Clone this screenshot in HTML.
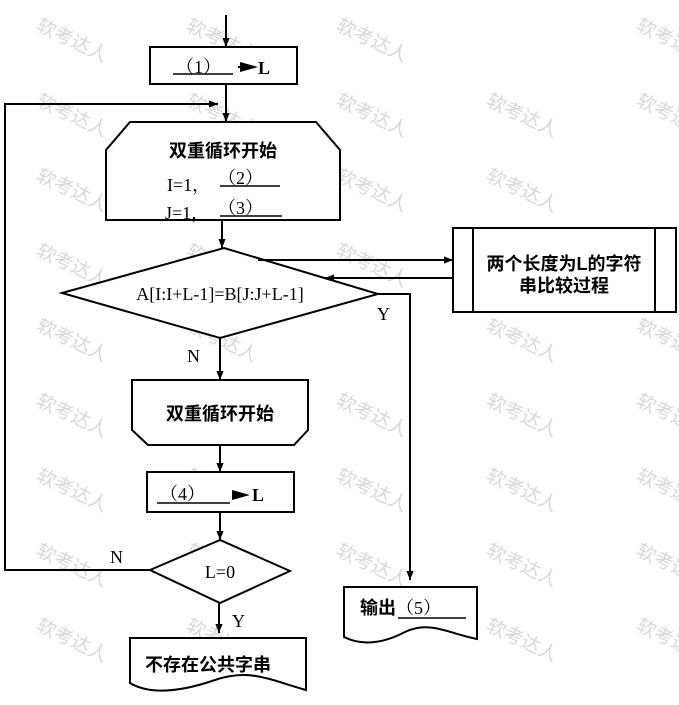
<!DOCTYPE html>
<html><head><meta charset="utf-8"><style>
body{margin:0;background:#fff;}
svg{display:block;}
text{font-family:"Liberation Serif","Noto Serif CJK SC","Noto Sans CJK SC",serif;fill:#000;}
.c{font-family:"Liberation Sans","Noto Sans CJK SC",sans-serif;font-weight:bold;}
.wm{font-family:"Liberation Sans","Noto Sans CJK SC",sans-serif;fill:#d8d8d8;font-size:19px;}
</style></head><body>
<svg width="679" height="705" viewBox="0 0 679 705" xmlns="http://www.w3.org/2000/svg">
<defs>
<marker id="a" viewBox="0 0 10 10" refX="10" refY="5" markerWidth="9" markerHeight="11" orient="auto" markerUnits="userSpaceOnUse"><path d="M0,1 L10,5 L0,9 z" fill="#000"/></marker>
</defs>
<g>
<text class="wm" x="35" y="30" transform="rotate(25 35 30)">软考达人</text>
<text class="wm" x="185" y="30" transform="rotate(25 185 30)">软考达人</text>
<text class="wm" x="335" y="30" transform="rotate(25 335 30)">软考达人</text>
<text class="wm" x="485" y="105" transform="rotate(25 485 105)">软考达人</text>
<text class="wm" x="35" y="105" transform="rotate(25 35 105)">软考达人</text>
<text class="wm" x="185" y="105" transform="rotate(25 185 105)">软考达人</text>
<text class="wm" x="335" y="105" transform="rotate(25 335 105)">软考达人</text>
<text class="wm" x="35" y="180" transform="rotate(25 35 180)">软考达人</text>
<text class="wm" x="335" y="180" transform="rotate(25 335 180)">软考达人</text>
<text class="wm" x="485" y="180" transform="rotate(25 485 180)">软考达人</text>
<text class="wm" x="635" y="105" transform="rotate(25 635 105)">软考达人</text>
<text class="wm" x="635" y="30" transform="rotate(25 635 30)">软考达人</text>
<text class="wm" x="35" y="255" transform="rotate(25 35 255)">软考达人</text>
<text class="wm" x="185" y="255" transform="rotate(25 185 255)">软考达人</text>
<text class="wm" x="335" y="255" transform="rotate(25 335 255)">软考达人</text>
<text class="wm" x="35" y="330" transform="rotate(25 35 330)">软考达人</text>
<text class="wm" x="185" y="330" transform="rotate(25 185 330)">软考达人</text>
<text class="wm" x="485" y="330" transform="rotate(25 485 330)">软考达人</text>
<text class="wm" x="635" y="330" transform="rotate(25 635 330)">软考达人</text>
<text class="wm" x="35" y="405" transform="rotate(25 35 405)">软考达人</text>
<text class="wm" x="185" y="405" transform="rotate(25 185 405)">软考达人</text>
<text class="wm" x="335" y="405" transform="rotate(25 335 405)">软考达人</text>
<text class="wm" x="485" y="405" transform="rotate(25 485 405)">软考达人</text>
<text class="wm" x="635" y="405" transform="rotate(25 635 405)">软考达人</text>
<text class="wm" x="35" y="480" transform="rotate(25 35 480)">软考达人</text>
<text class="wm" x="185" y="480" transform="rotate(25 185 480)">软考达人</text>
<text class="wm" x="335" y="480" transform="rotate(25 335 480)">软考达人</text>
<text class="wm" x="485" y="480" transform="rotate(25 485 480)">软考达人</text>
<text class="wm" x="635" y="480" transform="rotate(25 635 480)">软考达人</text>
<text class="wm" x="35" y="555" transform="rotate(25 35 555)">软考达人</text>
<text class="wm" x="185" y="555" transform="rotate(25 185 555)">软考达人</text>
<text class="wm" x="335" y="555" transform="rotate(25 335 555)">软考达人</text>
<text class="wm" x="485" y="555" transform="rotate(25 485 555)">软考达人</text>
<text class="wm" x="635" y="555" transform="rotate(25 635 555)">软考达人</text>
<text class="wm" x="35" y="630" transform="rotate(25 35 630)">软考达人</text>
<text class="wm" x="185" y="630" transform="rotate(25 185 630)">软考达人</text>
<text class="wm" x="485" y="630" transform="rotate(25 485 630)">软考达人</text>
<text class="wm" x="635" y="630" transform="rotate(25 635 630)">软考达人</text>
</g>
<g stroke="#000" stroke-width="2" fill="none">
<line x1="226" y1="15" x2="226" y2="47" marker-end="url(#a)"/>
<rect x="150" y="47" width="147" height="37" fill="#fff"/>
<line x1="226" y1="84" x2="226" y2="122" marker-end="url(#a)"/>
<polyline points="150,570 5,570 5,104 218,104" marker-end="url(#a)"/>
<polygon points="130,122 316,122 340,150 340,220 106,220 106,150" fill="#fff"/>
<line x1="222" y1="220" x2="222" y2="248" marker-end="url(#a)"/>
<polygon points="62,293 224,248 378,294 220,338" fill="#fff"/>
<line x1="258" y1="260" x2="453" y2="260" marker-end="url(#a)"/>
<line x1="453" y1="278" x2="325" y2="278" marker-end="url(#a)"/>
<polyline points="378,294 410,294 410,580" marker-end="url(#a)"/>
<rect x="453" y="228" width="223" height="84" fill="#fff"/>
<line x1="473" y1="228" x2="473" y2="312"/>
<line x1="655" y1="228" x2="655" y2="312"/>
<line x1="220" y1="338" x2="220" y2="380" marker-end="url(#a)"/>
<polygon points="132,380 308,380 308,430 294,445 148,445 132,430" fill="#fff"/>
<line x1="220" y1="445" x2="220" y2="472" marker-end="url(#a)"/>
<rect x="147" y="472" width="147" height="40" fill="#fff"/>
<line x1="220" y1="512" x2="220" y2="540" marker-end="url(#a)"/>
<polygon points="150,570 220,540 290,571 220,603" fill="#fff"/>
<line x1="219" y1="603" x2="219" y2="633" marker-end="url(#a)"/>
<path d="M130,638 L306,638 L306,690 C270,680 250,668 215,680 C180,692 150,695 130,683 Z" fill="#fff"/>
<path d="M344,587 L477,587 L477,639 C450,634 430,620 405,632 C380,645 360,645 344,637 Z" fill="#fff"/>
</g>
<g stroke="#000" stroke-width="1.5">
<line x1="173" y1="74" x2="233" y2="74"/>
<line x1="220" y1="186" x2="280" y2="186"/>
<line x1="220" y1="216" x2="282" y2="216"/>
<line x1="157" y1="503" x2="230" y2="503"/>
<line x1="398" y1="618" x2="466" y2="618"/>
</g>
<path d="M240,62 L258,67 L240,72 z" fill="#000"/>
<path d="M232,490 L250,495 L232,500 z" fill="#000"/>
<line x1="238" y1="67" x2="250" y2="67" stroke="#000" stroke-width="2"/>
<g font-size="18">
<text x="176" y="73">（1）</text>
<text x="258" y="74" font-weight="bold">L</text>
<text x="223" y="157" text-anchor="middle" class="c">双重循环开始</text>
<text x="167" y="191">I=1，</text>
<text x="218" y="184">（2）</text>
<text x="165" y="219">J=1，</text>
<text x="218" y="214">（3）</text>
<text x="220" y="300" text-anchor="middle">A[I:I+L-1]=B[J:J+L-1]</text>
<text x="377" y="320">Y</text>
<text x="187" y="362">N</text>
<text x="220" y="420" text-anchor="middle" class="c">双重循环开始</text>
<text x="160" y="500">（4）</text>
<text x="252" y="501" font-weight="bold">L</text>
<text x="220" y="578" text-anchor="middle">L=0</text>
<text x="110" y="563">N</text>
<text x="232" y="627">Y</text>
<text x="145" y="671" class="c">不存在公共字串</text>
<text x="360" y="614" class="c">输出</text>
<text x="396" y="614">（5）</text>
<text x="564" y="270" text-anchor="middle" class="c">两个长度为L的字符</text>
<text x="564" y="292" text-anchor="middle" class="c">串比较过程</text>
</g>
</svg>
</body></html>
